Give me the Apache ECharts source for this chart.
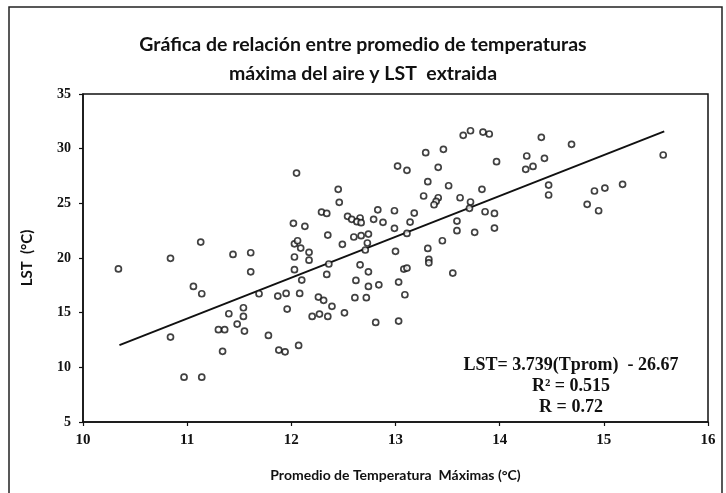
<!DOCTYPE html>
<html>
<head>
<meta charset="utf-8">
<script src="https://cdn.jsdelivr.net/npm/echarts@6/dist/echarts.min.js"></script>
<style>
  html, body { margin: 0; padding: 0; background: #fff; }
  #chart { width: 726px; height: 493px; }
</style>
</head>
<body>
<div id="chart"></div>
<script>
// Average maximum air temperature (°C) for each sample
const tempMax = [
  10.34, 10.84, 11.13, 11.44, 11.61, 11.61, 11.06, 11.14, 11.54, 11.40,
  11.54, 11.48, 11.30, 11.36, 11.55, 10.84, 11.34, 10.97, 11.14, 13.02,
  12.05, 12.45, 12.46, 12.29, 12.34, 12.83, 12.99, 12.02, 12.13, 12.54,
  12.58, 12.66, 12.63, 12.67, 12.79, 12.88, 12.99, 12.35, 12.60, 12.67,
  12.74, 12.03, 12.06, 12.09, 12.49, 12.73, 12.71, 13.00, 12.17, 12.03,
  12.17, 12.36, 12.66, 12.03, 12.34, 12.74, 13.03, 12.10, 12.62, 12.74,
  12.84, 11.69, 11.87, 11.95, 12.08, 12.26, 12.31, 12.61, 12.72, 12.39,
  11.96, 12.20, 12.27, 12.35, 12.51, 12.81, 13.03, 11.78, 11.88, 11.94,
  12.07, 13.65, 13.72, 13.84, 13.90, 13.29, 13.46, 14.40, 14.26, 14.43,
  13.11, 13.41, 13.97, 14.25, 14.32, 13.31, 13.51, 13.83, 13.27, 13.41,
  13.39, 13.37, 13.62, 13.72, 13.71, 13.18, 13.86, 13.95, 13.14, 13.59,
  13.59, 13.76, 13.95, 13.11, 13.45, 13.31, 13.32, 13.32, 13.08, 13.11,
  13.55, 13.09, 14.69, 15.57, 14.47, 14.47, 14.91, 15.01, 15.18, 14.84,
  14.95
];

// Extracted land surface temperature (°C) for the same samples
const lst = [
  19.00, 19.97, 21.46, 20.33, 20.48, 18.74, 17.40, 16.73, 15.45, 14.90,
  14.66, 13.96, 13.44, 13.44, 13.32, 12.77, 11.46, 9.10, 9.10, 28.41,
  27.77, 26.28, 25.09, 24.20, 24.08, 24.41, 24.32, 23.17, 22.90, 23.81,
  23.54, 23.66, 23.32, 23.23, 23.54, 23.26, 22.71, 22.10, 21.92, 22.04,
  22.19, 21.30, 21.58, 20.91, 21.25, 21.37, 20.73, 20.61, 20.52, 20.09,
  19.80, 19.45, 19.38, 18.93, 18.50, 18.74, 17.80, 17.98, 17.95, 17.40,
  17.55, 16.73, 16.52, 16.76, 16.76, 16.43, 16.13, 16.37, 16.37, 15.58,
  15.33, 14.66, 14.87, 14.66, 14.99, 14.11, 14.23, 12.92, 11.58, 11.42,
  12.00, 31.22, 31.64, 31.52, 31.34, 29.63, 29.94, 31.04, 29.33, 29.12,
  28.02, 28.29, 28.81, 28.11, 28.38, 26.98, 26.61, 26.28, 25.67, 25.51,
  25.18, 24.87, 25.51, 25.12, 24.54, 24.11, 24.23, 24.08, 23.29, 23.38,
  22.50, 22.35, 22.74, 22.25, 21.58, 20.88, 19.87, 19.56, 18.99, 19.08,
  18.62, 16.64, 30.40, 29.42, 26.67, 25.76, 26.13, 26.40, 26.74, 24.91,
  24.32
];

// Fitted regression: LST = slope * Tprom + intercept
const slope = 3.739;
const intercept = -26.67;
const fitRange = [10.35, 15.58];

const xTicks = [10, 11, 12, 13, 14, 15, 16];
const yTicks = [5, 10, 15, 20, 25, 30, 35];

const fitLabels = [
  'LST= 3.739(Tprom)  - 26.67',
  'R\u00b2 = 0.515',
  'R = 0.72'
];

const points = tempMax.map((t, i) => [t, lst[i]]);
const fitLine = fitRange.map(t => [t, slope * t + intercept]);

const chart = echarts.init(document.getElementById('chart'), null, { renderer: 'canvas' });

const serif = '"Liberation Serif", "Times New Roman", serif';
const sans = 'Lato, "Open Sans", sans-serif';

chart.setOption({
  animation: false,
  backgroundColor: '#ffffff',
  title: {
    text: 'Gráfica de relación entre promedio de temperaturas\nmáxima del aire y LST  extraida',
    left: 'center',
    top: 25,
    textStyle: {
      fontFamily: sans,
      fontWeight: 'bold',
      fontSize: 19.5,
      lineHeight: 29,
      color: '#111'
    }
  },
  grid: {
    left: 83,
    right: 18,
    top: 94,
    bottom: 71,
    show: true,
    borderColor: '#111',
    borderWidth: 1.5,
    backgroundColor: 'transparent'
  },
  xAxis: {
    type: 'value',
    min: xTicks[0],
    max: xTicks[xTicks.length - 1],
    interval: 1,
    name: 'Promedio de Temperatura  Máximas (°C)',
    nameLocation: 'middle',
    nameGap: 46,
    nameTextStyle: { fontFamily: sans, fontWeight: 'bold', fontSize: 14, color: '#111' },
    axisLine: { lineStyle: { color: '#111', width: 1.5 } },
    axisTick: { show: true, length: 4, lineStyle: { color: '#111', width: 1.2 } },
    axisLabel: { fontFamily: serif, fontWeight: 'bold', fontSize: 15, color: '#111', margin: 11 },
    splitLine: { show: false }
  },
  yAxis: {
    type: 'value',
    min: yTicks[0],
    max: yTicks[yTicks.length - 1],
    interval: 5,
    name: 'LST  (°C)',
    nameLocation: 'middle',
    nameGap: 48,
    nameRotate: 90,
    nameTextStyle: { fontFamily: sans, fontWeight: 'bold', fontSize: 15, color: '#111' },
    axisLine: { show: true, lineStyle: { color: '#111', width: 1.5 } },
    axisTick: { show: true, length: 4, lineStyle: { color: '#111', width: 1.2 } },
    axisLabel: { fontFamily: serif, fontWeight: 'bold', fontSize: 14, color: '#111', margin: 12 },
    splitLine: { show: false }
  },
  series: [
    {
      type: 'scatter',
      data: points,
      symbol: 'circle',
      symbolSize: 6,
      itemStyle: { color: '#ffffff', borderColor: '#111', borderWidth: 1.7 },
      z: 3
    },
    {
      type: 'line',
      data: fitLine,
      symbol: 'none',
      lineStyle: { color: '#111', width: 2 },
      z: 2
    }
  ],
  graphic: [
    {
      type: 'rect',
      shape: { x: 9, y: 7, width: 713, height: 500 },
      style: { fill: 'none', stroke: '#222', lineWidth: 1.5 },
      silent: true
    },
    {
      type: 'text',
      x: 571,
      y: 355,
      style: {
        text: fitLabels.join('\n'),
        textAlign: 'center',
        textVerticalAlign: 'top',
        font: 'bold 18px ' + serif,
        lineHeight: 21,
        fill: '#111'
      }
    }
  ]
});
</script>
</body>
</html>
